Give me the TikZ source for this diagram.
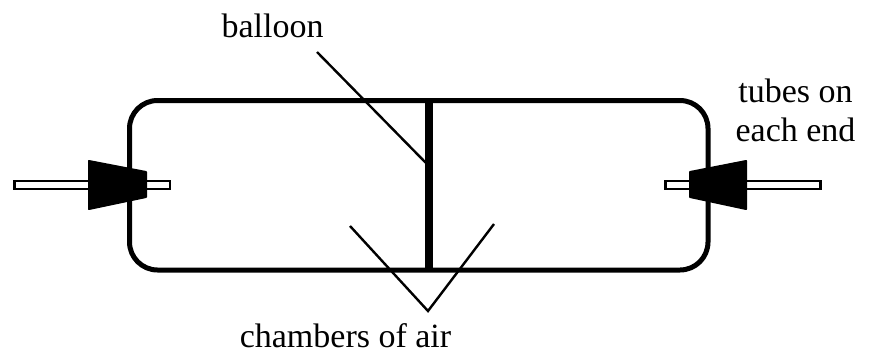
\documentclass[tikz,border=0pt]{standalone}
\usepackage{fontspec}
\setmainfont{Liberation Serif}
\usetikzlibrary{calc}

\begin{document}
\begin{tikzpicture}[
  x=1pt, y=-1pt,
  lbl/.style={font=\fontsize{34}{38.5}\selectfont, align=center, inner sep=0pt, anchor=base},
  wall/.style={draw, line width=5pt, rounded corners=28pt, outer sep=0pt, inner sep=0pt},
  tube/.style={draw, line width=2.4pt, fill=white},
  plug/.style={draw, fill=black, line width=2pt, line join=round},
  ptr/.style={line width=2.4pt}]

  \useasboundingbox (0,0) rectangle (872,351);

  % tubes go under the chamber wall, plugs on top
  \node[wall, minimum width=578.5pt, minimum height=169.5pt, anchor=north west] (chamber) at (129.5,100.5) {};
  \draw[tube] (14.5,181.2) rectangle (170,188.8);
  \draw[tube] (665.5,181.2) rectangle (820.5,188.8);
  \draw[plug] (89,161) -- (146,172) -- (146,197) -- (89,209) -- cycle;
  \draw[plug] (690,172) -- (746,161) -- (746,209) -- (690,197) -- cycle;

  \coordinate (divtop) at (chamber.north -| 429,0);
  \coordinate (divbot) at (chamber.south -| 429,0);
  \draw[line width=8pt] (divtop) -- (divbot);

  \node[lbl] (balloon) at (272.5,37) {balloon};
  \node[lbl] (tubes)   at (795.5,141) {tubes on\\each end};
  \node[lbl] (air)     at (345.5,347) {chambers of air};

  % free ends of the pointers
  \coordinate (btip)   at (426,163);
  \coordinate (bstart) at (317,52);
  \coordinate (apex)   at (428,311);
  \coordinate (lefta)  at (350,226);
  \coordinate (righta) at (494,224);

  \draw[ptr] (bstart) -- (btip);
  \draw[ptr] (lefta) -- (apex) -- (righta);
\end{tikzpicture}
\end{document}
